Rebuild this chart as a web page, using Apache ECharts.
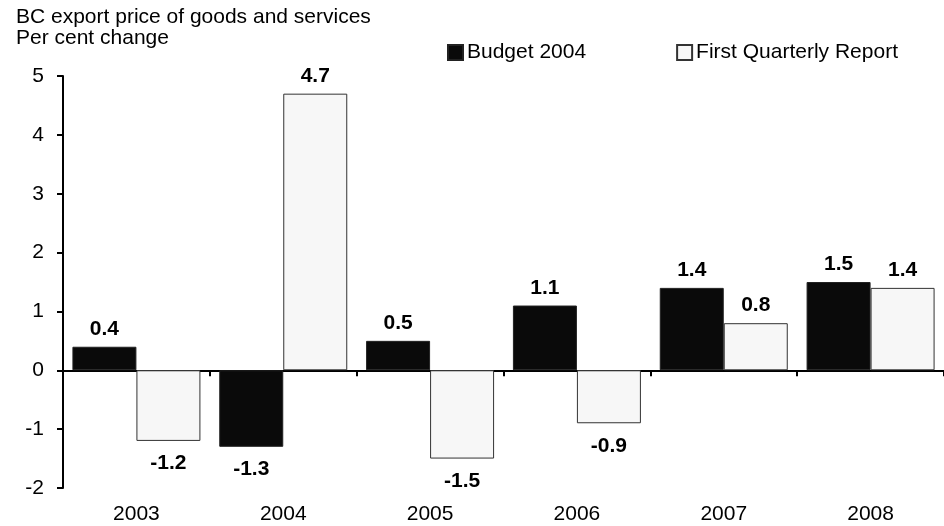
<!DOCTYPE html>
<html>
<head>
<meta charset="utf-8">
<script src="https://cdn.jsdelivr.net/npm/echarts@6/dist/echarts.min.js"></script>
<style>
  html, body { margin: 0; padding: 0; background: #fff; }
  #bar { width: 944px; height: 526px; }
</style>
</head>
<body>
<div id="bar"></div>
<script>
var years = ['2003', '2004', '2005', '2006', '2007', '2008'];
var budget2004 = [0.4, -1.3, 0.5, 1.1, 1.4, 1.5];
var firstQuarterly = [-1.2, 4.7, -1.5, -0.9, 0.8, 1.4];
var yTicks = { min: -2, max: 5, step: 1 };

var font = '"Liberation Sans", Arial, sans-serif';

// label above positive bars, below negative ones
function withLabels(values) {
    return values.map(function (v) {
        return { value: v, label: { position: v < 0 ? 'bottom' : 'top', distance: v < 0 ? 12 : 7 } };
    });
}

var dom = document.getElementById("bar");
var myChart = echarts.init(dom);

var barLabel = {
    show: true,
    color: '#000',
    fontFamily: font,
    fontSize: 21,
    fontWeight: 'bold',
    formatter: function (p) { return p.value.toFixed(1); }
};

option = {
    animation: false,
    title: {
        text: 'BC export price of goods and services\nPer cent change',
        left: 11,
        top: 2,
        textStyle: { fontFamily: font, fontSize: 21, fontWeight: 'normal', color: '#000', lineHeight: 21 }
    },
    legend: {
        left: 447,
        top: 42,
        padding: 0,
        itemGap: 90,
        itemWidth: 15,
        itemHeight: 15,
        icon: 'rect',
        textStyle: { fontFamily: font, fontSize: 21, color: '#000', padding: [0, 0, 0, -1] }
    },
    grid: { left: 63, top: 76, width: 885, height: 412 },
    xAxis: [
        {
            // labels stay at the bottom
            type: 'category',
            data: years,
            axisLine: { show: false, onZero: false },
            axisTick: { show: false },
            axisLabel: { fontFamily: font, fontSize: 21, color: '#000', margin: 16 }
        },
        {
            // the zero line with its ticks
            type: 'category',
            data: years,
            position: 'bottom',
            axisLine: { show: true, onZero: true, lineStyle: { color: '#000', width: 2 } },
            axisTick: { show: true, length: 6, lineStyle: { color: '#000', width: 2 } },
            axisLabel: { show: false }
        }
    ],
    yAxis: {
        type: 'value',
        min: yTicks.min,
        max: yTicks.max,
        interval: yTicks.step,
        axisLine: { show: true, lineStyle: { color: '#000', width: 2 } },
        axisTick: { show: true, length: 6, lineStyle: { color: '#000', width: 2 } },
        axisLabel: { fontFamily: font, fontSize: 21, color: '#000', margin: 19 },
        splitLine: { show: false }
    },
    series: [
        {
            name: 'Budget 2004',
            type: 'bar',
            barWidth: 64,
            barGap: '0%',
            itemStyle: { color: '#0a0a0a', borderColor: '#222', borderWidth: 1 },
            label: barLabel,
            data: withLabels(budget2004)
        },
        {
            name: 'First Quarterly Report',
            type: 'bar',
            barWidth: 64,
            barGap: '0%',
            itemStyle: { color: '#f7f7f7', borderColor: '#333', borderWidth: 1 },
            label: barLabel,
            data: withLabels(firstQuarterly)
        }
    ]
};
if (option && typeof option === "object") {
    myChart.setOption(option, true);
}
</script>
</body>
</html>
